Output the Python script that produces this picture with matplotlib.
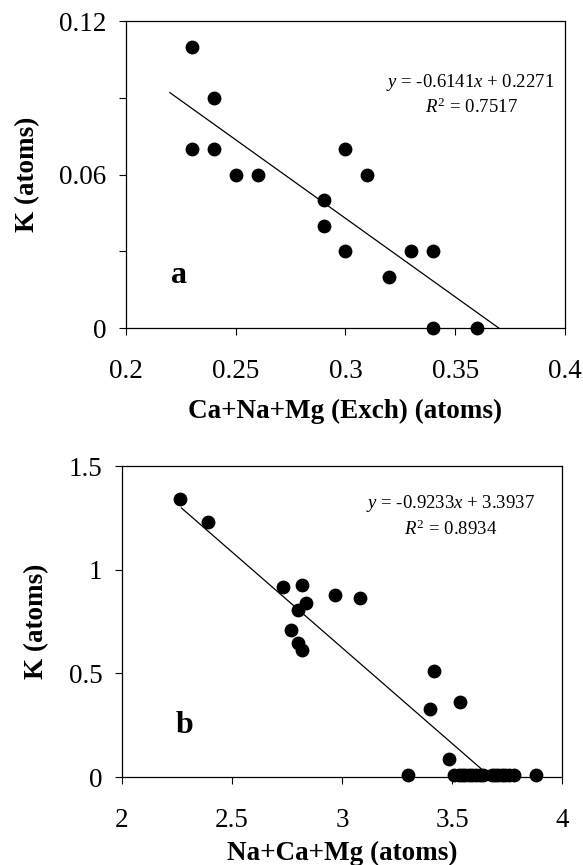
import numpy as np
import matplotlib.pyplot as plt

plt.rcParams['font.family'] = ['Liberation Serif', 'DejaVu Serif']
plt.rcParams['mathtext.fontset'] = 'custom'
plt.rcParams['mathtext.rm'] = 'Liberation Serif'
plt.rcParams['mathtext.it'] = 'Liberation Serif:italic'

# panel a: exchangeable Ca+Na+Mg vs K
xa = [0.23, 0.24, 0.23, 0.24, 0.25, 0.26, 0.30, 0.31, 0.29, 0.29,
      0.30, 0.33, 0.34, 0.32, 0.34, 0.36]
ya = [0.11, 0.09, 0.07, 0.07, 0.06, 0.06, 0.07, 0.06, 0.05, 0.04,
      0.03, 0.03, 0.03, 0.02, 0.0, 0.0]
slope_a, icpt_a, r2_a = -0.6141, 0.2271, 0.7517
line_a_start = 0.22

# panel b: Na+Ca+Mg vs K
xb = [2.264, 2.389, 2.731, 2.819, 2.836, 2.799, 2.768, 2.799, 2.819, 2.968,
      3.083, 3.416, 3.399, 3.538, 3.487, 3.298,
      3.51, 3.53, 3.545, 3.56, 3.575, 3.59, 3.61, 3.625, 3.64,
      3.68, 3.695, 3.71, 3.725, 3.74, 3.76, 3.78, 3.88]
yb = [1.342, 1.230, 0.916, 0.928, 0.839, 0.804, 0.711, 0.646, 0.611, 0.879,
      0.865, 0.510, 0.328, 0.362, 0.088, 0.012,
      0.012, 0.012, 0.012, 0.012, 0.012, 0.012, 0.012, 0.012, 0.012,
      0.012, 0.012, 0.012, 0.012, 0.012, 0.012, 0.012, 0.012]
slope_b, icpt_b, r2_b = -0.9233, 3.3937, 0.8934
line_b_start = 2.27

fig = plt.figure(figsize=(5.83, 8.65), dpi=100)
ax1 = fig.add_axes([0.2161, 0.6208, 0.753, 0.3549])
ax2 = fig.add_axes([0.2093, 0.1017, 0.7547, 0.3595])


def draw(ax, x, y, slope, icpt, r2, x0, letter, xlim, ylim, yticks, yminor,
         xticks, xlabel, xlabpad, eq_xy, r2_xy, letter_xy):
    ax.scatter(x, y, s=80, color='black', zorder=3, clip_on=False)
    xs = np.array([x0, -icpt / slope])
    ax.plot(xs, slope * xs + icpt, color='black', lw=0.9)
    ax.set_xlim(xlim)
    ax.set_ylim(ylim)
    ax.set_xticks(xticks)
    ax.set_xticklabels([f'{t:g}' for t in xticks])
    ax.set_yticks(yticks)
    ax.set_yticklabels([f'{t:g}' for t in yticks])
    ax.set_yticks(yminor, minor=True)
    ax.tick_params(axis='both', which='both', direction='out', length=5,
                   width=0.8, labelsize=19.5)
    ax.tick_params(axis='x', pad=17)
    ax.tick_params(axis='y', pad=9)
    for sp in ax.spines.values():
        sp.set_linewidth(0.9)
    ax.set_xlabel(xlabel, fontsize=19.5, fontweight='bold', labelpad=xlabpad)
    ax.set_ylabel('K (atoms)', fontsize=19.5, fontweight='bold', labelpad=14)
    ax.text(eq_xy[0], eq_xy[1], f'$y$ = {slope:.4f}$x$ + {icpt:.4f}',
            fontsize=13.5, ha='center', va='center')
    ax.text(r2_xy[0], r2_xy[1], r'$R^{\mathrm{2}}$' + f' = {r2:.4f}',
            fontsize=13.5, ha='center', va='center')
    ax.text(letter_xy[0], letter_xy[1], letter, fontsize=23,
            fontweight='bold', ha='center', va='center')


draw(ax1, xa, ya, slope_a, icpt_a, r2_a, line_a_start, 'a',
     (0.2, 0.4), (0, 0.12), [0, 0.06, 0.12], [0.03, 0.09],
     [0.2, 0.25, 0.3, 0.35, 0.4], 'Ca+Na+Mg (Exch) (atoms)', 11,
     (0.357, 0.0958), (0.3575, 0.0862), (0.224, 0.0205))
draw(ax2, xb, yb, slope_b, icpt_b, r2_b, line_b_start, 'b',
     (2, 4), (0, 1.5), [0, 0.5, 1, 1.5], [],
     [2, 2.5, 3, 3.5, 4], 'Na+Ca+Mg (atoms)', 6,
     (3.492, 1.3215), (3.495, 1.193), (2.283, 0.249))

fig.savefig('out.png', dpi=100)
